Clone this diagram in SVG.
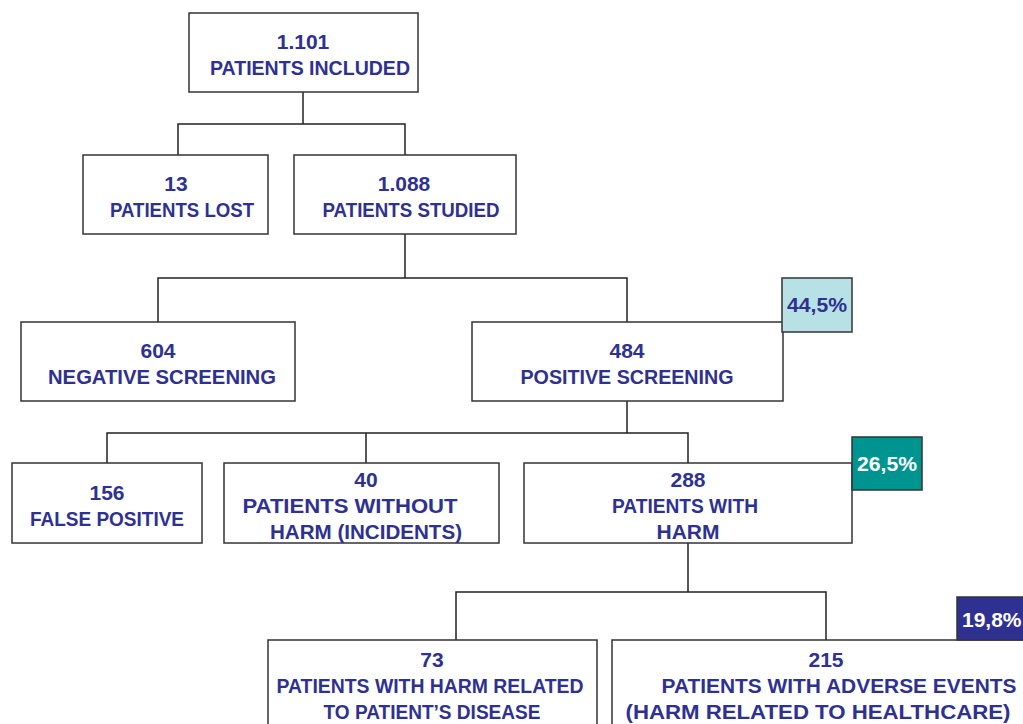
<svg xmlns="http://www.w3.org/2000/svg" width="1023" height="724" viewBox="0 0 1023 724">
<style>
.box{fill:#fff;stroke:#333;stroke-width:1.5}
.t{font-family:"Liberation Sans","DejaVu Sans",sans-serif;font-weight:bold;font-size:21px;fill:#2e3192;text-anchor:middle}
.w{fill:#fff}
.ln{fill:none;stroke:#222;stroke-width:1.5}
</style>
<rect width="1023" height="724" fill="#fff"/>
<g id="connectors">
<path class="ln" d="M303 92V124M178 155V124H405V155"/>
<path class="ln" d="M405 234V278M158 322V278H627V322"/>
<path class="ln" d="M627 401V433M107 463V433H688V463M366 433V463"/>
<path class="ln" d="M688 543V592M456 640V592H826V640"/>
</g>
<g id="n1"><rect class="box" x="189" y="13" width="229" height="79"/>
<text class="t" x="303" y="49">1.101</text><text class="t" x="310" y="75" textLength="200" lengthAdjust="spacingAndGlyphs">PATIENTS INCLUDED</text></g>
<g id="n2"><rect class="box" x="83" y="155" width="185" height="79"/>
<text class="t" x="176" y="191">13</text><text class="t" x="182" y="217" textLength="144" lengthAdjust="spacingAndGlyphs">PATIENTS LOST</text></g>
<g id="n3"><rect class="box" x="294" y="155" width="222" height="79"/>
<text class="t" x="404" y="191">1.088</text><text class="t" x="411" y="217" textLength="177" lengthAdjust="spacingAndGlyphs">PATIENTS STUDIED</text></g>
<g id="n4"><rect class="box" x="21" y="322" width="274" height="79"/>
<text class="t" x="158" y="358">604</text><text class="t" x="162" y="384" textLength="228" lengthAdjust="spacingAndGlyphs">NEGATIVE SCREENING</text></g>
<g id="n5"><rect class="box" x="472" y="322" width="311" height="79"/>
<text class="t" x="627" y="358">484</text><text class="t" x="627" y="384" textLength="213" lengthAdjust="spacingAndGlyphs">POSITIVE SCREENING</text></g>
<g id="b1"><rect x="782" y="278" width="70" height="54" fill="#b7e1e4" stroke="#333" stroke-width="1.5"/>
<text class="t" x="817" y="312" textLength="60" lengthAdjust="spacingAndGlyphs">44,5%</text></g>
<g id="n6"><rect class="box" x="12" y="463" width="190" height="80"/>
<text class="t" x="107" y="500">156</text><text class="t" x="107" y="526" textLength="154" lengthAdjust="spacingAndGlyphs">FALSE POSITIVE</text></g>
<g id="n7"><rect class="box" x="224" y="463" width="275" height="80"/>
<text class="t" x="366" y="487">40</text><text class="t" x="350" y="513" textLength="215" lengthAdjust="spacingAndGlyphs">PATIENTS WITHOUT</text><text class="t" x="366" y="539" textLength="192" lengthAdjust="spacingAndGlyphs">HARM (INCIDENTS)</text></g>
<g id="n8"><rect class="box" x="524" y="463" width="328" height="80"/>
<text class="t" x="688" y="487">288</text><text class="t" x="685" y="513" textLength="146" lengthAdjust="spacingAndGlyphs">PATIENTS WITH</text><text class="t" x="688" y="539">HARM</text></g>
<g id="b2"><rect x="852" y="437" width="70" height="53" fill="#009490" stroke="#333" stroke-width="1.5"/>
<text class="t w" x="887" y="471" textLength="60" lengthAdjust="spacingAndGlyphs">26,5%</text></g>
<g id="n9"><rect class="box" x="268" y="640" width="329" height="90"/>
<text class="t" x="432" y="667">73</text><text class="t" x="430" y="693" textLength="307" lengthAdjust="spacingAndGlyphs">PATIENTS WITH HARM RELATED</text><text class="t" x="432" y="719" textLength="217" lengthAdjust="spacingAndGlyphs">TO PATIENT’S DISEASE</text></g>
<g id="n10"><rect class="box" x="612" y="640" width="420" height="90"/>
<text class="t" x="826" y="667">215</text><text class="t" x="839" y="693" textLength="355" lengthAdjust="spacingAndGlyphs">PATIENTS WITH ADVERSE EVENTS</text><text class="t" x="818" y="719" textLength="385" lengthAdjust="spacingAndGlyphs">(HARM RELATED TO HEALTHCARE)</text></g>
<g id="b3"><rect x="957" y="597" width="75" height="43" fill="#2e3192" stroke="#333" stroke-width="1.5"/>
<text class="t w" x="962" y="627" style="text-anchor:start">19,8%</text></g>
</svg>
